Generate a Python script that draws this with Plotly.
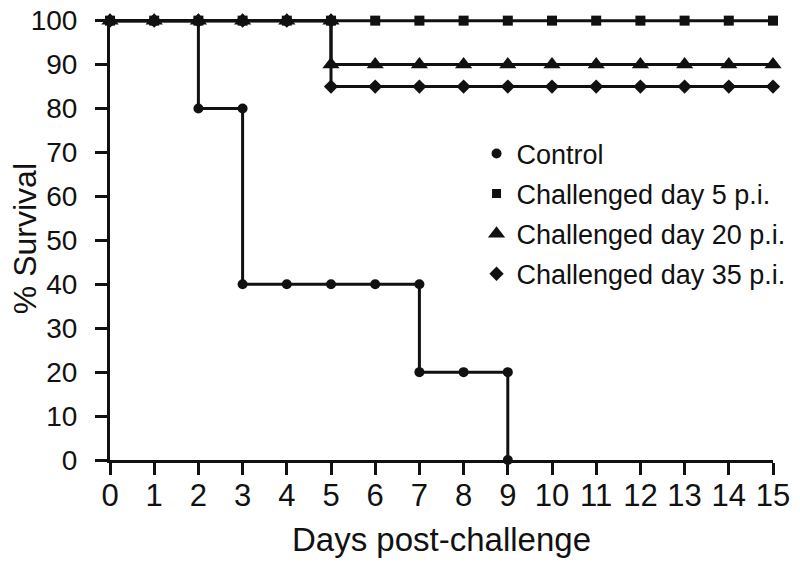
import plotly.graph_objects as go

# survival curves (repeated day = step drop)
control_days = [0, 1, 2, 2, 3, 3, 4, 5, 6, 7, 7, 8, 9, 9]
control_surv = [100, 100, 100, 80, 80, 40, 40, 40, 40, 40, 20, 20, 20, 0]

day5_days = list(range(0, 16))
day5_surv = [100] * 16

day20_days = [0, 1, 2, 3, 4, 5, 5, 6, 7, 8, 9, 10, 11, 12, 13, 14, 15]
day20_surv = [100, 100, 100, 100, 100, 100, 90, 90, 90, 90, 90, 90, 90, 90, 90, 90, 90]

day35_days = [0, 1, 2, 3, 4, 5, 5, 6, 7, 8, 9, 10, 11, 12, 13, 14, 15]
day35_surv = [100, 100, 100, 100, 100, 100, 85, 85, 85, 85, 85, 85, 85, 85, 85, 85, 85]

x_ticks = list(range(0, 16))
y_ticks = list(range(0, 101, 10))

FONT = "Liberation Sans, Arial, sans-serif"

# name, x, y, symbol, size on curve, size in legend
series = [
    ("Control", control_days, control_surv, "circle", 10, 10),
    ("Challenged day 5 p.i.", day5_days, day5_surv, "square", 10, 9),
    ("Challenged day 20 p.i.", day20_days, day20_surv, "triangle-up", 15, 15),
    ("Challenged day 35 p.i.", day35_days, day35_surv, "diamond", 11, 11),
]

fig = go.Figure()
for i, (name, xs, ys, sym, size, lsize) in enumerate(series):
    fig.add_trace(go.Scatter(
        x=xs, y=ys, mode="lines+markers", name=name,
        line=dict(color="#111", width=3),
        marker=dict(symbol=sym, size=size, color="#111"),
        legendgroup=f"g{i}", showlegend=False, cliponaxis=False,
    ))
    # marker-only legend entry
    fig.add_trace(go.Scatter(
        x=[None], y=[None], mode="markers", name=name,
        marker=dict(symbol=sym, size=lsize, color="#111"),
        legendgroup=f"g{i}", showlegend=True,
    ))

# page body has an 8px margin, so the figure is a little smaller than the window
fig.update_layout(
    width=792, height=556,
    paper_bgcolor="white", plot_bgcolor="white",
    font=dict(family=FONT, color="#111", size=27),
    margin=dict(l=102, r=26, t=10, b=104),
    legend=dict(
        x=0.552, y=0.748, xanchor="left", yanchor="top",
        bgcolor="rgba(0,0,0,0)", font=dict(size=27),
        traceorder="grouped", tracegroupgap=2,
    ),
)
fig.update_xaxes(
    range=[0, 15], tickvals=x_ticks, showgrid=False, zeroline=False,
    showline=True, linecolor="#111", linewidth=3, automargin=False,
    ticks="outside", ticklen=12, tickwidth=3, tickcolor="#111",
    tickfont=dict(size=31, family="Liberation Sans Narrow, " + FONT),
    ticklabelstandoff=-6, ticklabeloverflow="allow",
    title=dict(text="Days post-challenge", font=dict(size=33), standoff=16),
)
fig.update_yaxes(
    range=[0, 100.6], tickvals=y_ticks, showgrid=False, zeroline=False,
    showline=True, linecolor="#111", linewidth=3, automargin=False,
    ticks="outside", ticklen=12, tickwidth=3, tickcolor="#111",
    tickfont=dict(size=28), ticklabelstandoff=12, ticklabeloverflow="allow",
)
# y title placed by hand (standoff is ignored without automargin)
fig.add_annotation(
    text="% Survival", textangle=-90, showarrow=False,
    xref="paper", yref="paper", x=-0.128, y=0.5,
    xanchor="center", yanchor="middle", font=dict(size=32),
)

fig.write_html("out.html")
